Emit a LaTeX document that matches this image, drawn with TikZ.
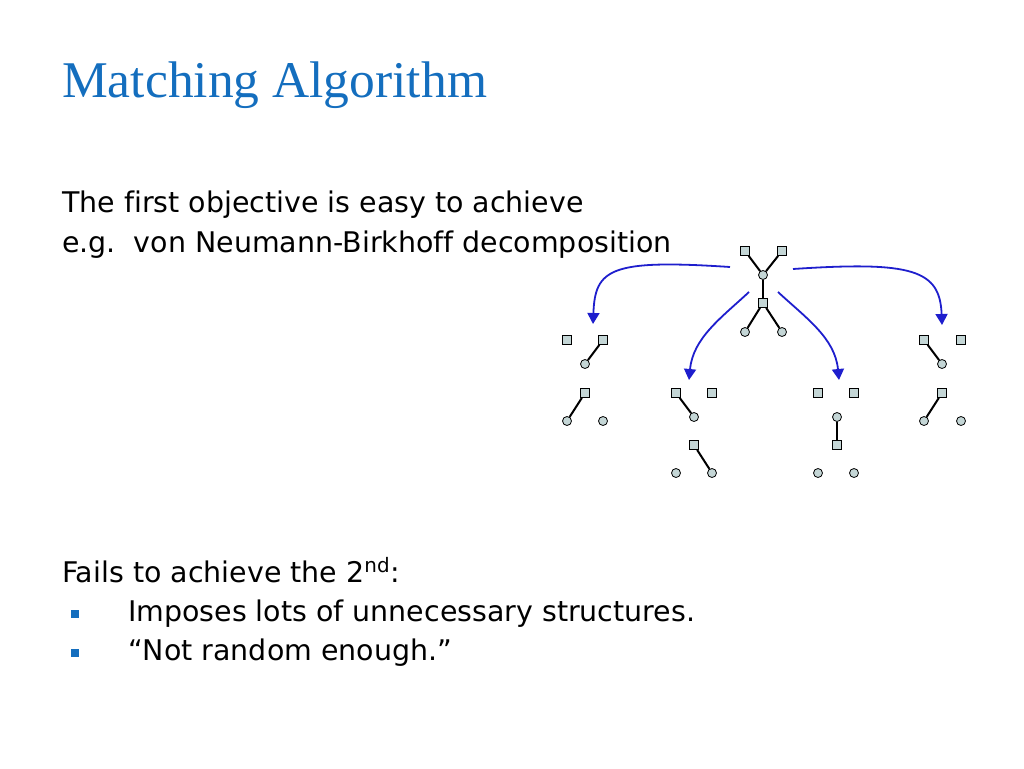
\documentclass[tikz,border=0pt]{standalone}
\usepackage{fontspec}
\setmainfont[Ligatures=NoCommon]{DejaVu Sans}
\newfontfamily\titlefont{Liberation Serif}
\usetikzlibrary{arrows.meta}
\definecolor{titleblue}{RGB}{20,110,190}
\definecolor{arrowblue}{RGB}{30,30,205}
\definecolor{vtxfill}{RGB}{196,214,214}
\tikzset{
  boxv/.style={
    inner sep = 0cm,
    minimum size = 9pt,
    shape = rectangle,
    draw,
    fill = vtxfill,
    line width = 0.8pt
  },
  dotv/.style={
    inner sep = 0cm,
    minimum size = 9pt,
    shape = circle,
    draw,
    fill = vtxfill,
    line width = 0.8pt
  },
  pair/.style={
    line width = 2pt
  },
  split/.style={
    arrowblue,
    line width = 1.8pt,
    -{Triangle[length=11pt,width=12pt]}
  },
  body/.style={
    anchor = base west,
    inner sep = 0pt,
    font = \fontsize{28.45}{34}\selectfont
  },
  bullet/.style={
    inner sep = 0pt,
    minimum size = 7.5pt,
    shape = rectangle,
    fill = titleblue
  }
}
\begin{document}
\begin{tikzpicture}[x=1pt,y=-1pt]
        \useasboundingbox (0,0) rectangle (1024,768);

        \node[anchor=base west, inner sep=0pt, titleblue, font=\titlefont\fontsize{51.5}{60}\selectfont] (title) at (62,97) {Matching Algorithm};

        \node[body] (line1) at (62,212) {The first objective is easy to achieve};
        \node[body] (line2) at (62,252) {e.g.\ \ von Neumann-Birkhoff decomposition};
        \node[body] (line3) at (62,582) {Fails to achieve the 2\textsuperscript{nd}:};
        \node[bullet] (bul1) at (75,614) {};
        \node[body] (item1) at (128,621) {Imposes lots of unnecessary structures.};
        \node[bullet] (bul2) at (75,653) {};
        \node[body] (item2) at (128,660) {``Not random enough.''};

        % whole graph
        \node[boxv] (sT1) at (745,251) {};
        \node[boxv] (sT2) at (782,251) {};
        \node[dotv] (cT) at (763,275) {};
        \node[boxv] (sT3) at (763,303) {};
        \node[dotv] (cT1) at (745,332) {};
        \node[dotv] (cT2) at (782,332) {};
        \draw[pair] (sT1) -- (cT);
        \draw[pair] (sT2) -- (cT);
        \draw[pair] (cT) -- (sT3);
        \draw[pair] (sT3) -- (cT1);
        \draw[pair] (sT3) -- (cT2);

        % matching A
        \node[boxv] (sA1) at (567,340) {};
        \node[boxv] (sA2) at (603,340) {};
        \node[dotv] (cA) at (585,364) {};
        \node[boxv] (sA3) at (585,393) {};
        \node[dotv] (cA1) at (567,421) {};
        \node[dotv] (cA2) at (603,421) {};
        \draw[pair] (sA2) -- (cA);
        \draw[pair] (sA3) -- (cA1);

        % matching B
        \node[boxv] (sB1) at (676,393) {};
        \node[boxv] (sB2) at (712,393) {};
        \node[dotv] (cB) at (694,417) {};
        \node[boxv] (sB3) at (694,445) {};
        \node[dotv] (cB1) at (676,473) {};
        \node[dotv] (cB2) at (712,473) {};
        \draw[pair] (sB1) -- (cB);
        \draw[pair] (sB3) -- (cB2);

        % matching C
        \node[boxv] (sC1) at (818,393) {};
        \node[boxv] (sC2) at (854,393) {};
        \node[dotv] (cC) at (837,417) {};
        \node[boxv] (sC3) at (837,445) {};
        \node[dotv] (cC1) at (818,473) {};
        \node[dotv] (cC2) at (854,473) {};
        \draw[pair] (cC) -- (sC3);

        % matching D
        \node[boxv] (sD1) at (924,340) {};
        \node[boxv] (sD2) at (961,340) {};
        \node[dotv] (cD) at (942,364) {};
        \node[boxv] (sD3) at (942,393) {};
        \node[dotv] (cD1) at (924,421) {};
        \node[dotv] (cD2) at (961,421) {};
        \draw[pair] (sD1) -- (cD);
        \draw[pair] (sD3) -- (cD1);

        % arrows
        \coordinate (oA) at (730,267);
        \coordinate (oD) at (793,269);
        \coordinate (oB) at (749,292);
        \coordinate (oC) at (778,292);
        \coordinate (tA) at (593,324);
        \coordinate (tD) at (942,325);
        \coordinate (tB) at (689,380);
        \coordinate (tC) at (839,380);
        \draw[split] (oA) .. controls +(-120,-8) and +(2,-55) .. (tA);
        \draw[split] (oD) .. controls +(120,-8) and +(-2,-55) .. (tD);
        \draw[split] (oB) .. controls +(-28,26) and +(4,-42) .. (tB);
        \draw[split] (oC) .. controls +(28,26) and +(-4,-42) .. (tC);
\end{tikzpicture}
\end{document}
